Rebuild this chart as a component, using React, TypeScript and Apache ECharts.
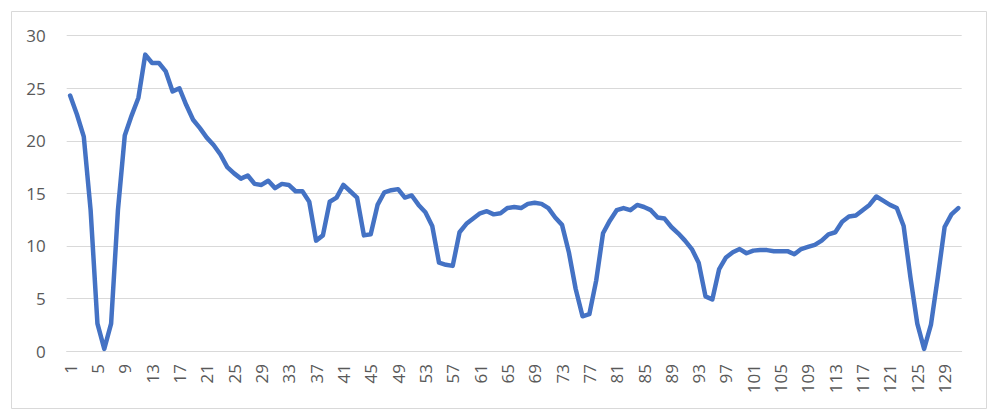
import React, { useEffect, useRef } from "react";
import * as echarts from "echarts";

const categories: string[] = Array.from({ length: 131 }, (_, i) => String(i + 1));

const values: number[] = [
  24.3, 22.5, 20.4, 13.4, 2.6, 0.2, 2.6, 13.4, 20.5, 22.4,
  24.1, 28.2, 27.4, 27.4, 26.6, 24.7, 25.0, 23.4, 22.0, 21.2,
  20.3, 19.6, 18.7, 17.5, 16.9, 16.4, 16.7, 15.9, 15.8, 16.2,
  15.5, 15.9, 15.8, 15.2, 15.2, 14.2, 10.5, 11.0, 14.2, 14.6,
  15.8, 15.2, 14.6, 11.0, 11.1, 13.9, 15.1, 15.3, 15.4, 14.6,
  14.8, 13.9, 13.2, 11.9, 8.4, 8.2, 8.1, 11.3, 12.1, 12.6,
  13.1, 13.3, 13.0, 13.1, 13.6, 13.7, 13.6, 14.0, 14.1, 14.0,
  13.6, 12.7, 12.0, 9.4, 5.9, 3.3, 3.5, 6.7, 11.2, 12.4,
  13.4, 13.6, 13.4, 13.9, 13.7, 13.4, 12.7, 12.6, 11.8, 11.2,
  10.5, 9.7, 8.4, 5.2, 4.9, 7.8, 8.9, 9.4, 9.7, 9.3,
  9.55, 9.6, 9.6, 9.5, 9.5, 9.5, 9.2, 9.7, 9.9, 10.1,
  10.5, 11.1, 11.3, 12.3, 12.8, 12.9, 13.4, 13.9, 14.7, 14.3,
  13.9, 13.6, 11.9, 7.0, 2.6, 0.2, 2.5, 7.0, 11.8, 13.0,
  13.6,
];

const yTicks = { min: 0, max: 30, interval: 5 };

export default function App() {
  const ref = useRef<HTMLDivElement>(null);

  useEffect(() => {
    document.body.style.margin = "0";
    if (!ref.current) return;
    const chart = echarts.init(ref.current, undefined, { renderer: "svg" });
    chart.setOption({
      animation: false,
      backgroundColor: "#ffffff",
      textStyle: { fontFamily: "'Open Sans', 'Noto Sans', sans-serif" },
      graphic: [
        {
          type: "rect",
          shape: { x: 11.5, y: 11.5, width: 975, height: 397 },
          style: { fill: "none", stroke: "#d9d9d9", lineWidth: 1 },
          silent: true,
        },
      ],
      grid: { left: 66.7, right: 38.3, top: 35.7, bottom: 68, containLabel: false },
      xAxis: {
        type: "category",
        data: categories,
        boundaryGap: true,
        axisLine: { show: true, lineStyle: { color: "#d9d9d9", width: 1 } },
        axisTick: { show: false },
        axisLabel: {
          interval: 3,
          rotate: 90,
          margin: 13,
          color: "#595959",
          fontSize: 17,
          fontFamily: "'Open Sans', 'Noto Sans', sans-serif",
        },
        splitLine: { show: false },
      },
      yAxis: {
        type: "value",
        min: yTicks.min,
        max: yTicks.max,
        interval: yTicks.interval,
        axisLine: { show: false },
        axisTick: { show: false },
        axisLabel: {
          margin: 21,
          color: "#595959",
          fontSize: 17,
          fontFamily: "'Open Sans', 'Noto Sans', sans-serif",
        },
        splitLine: { show: true, lineStyle: { color: "#d9d9d9", width: 1 } },
      },
      series: [
        {
          type: "line",
          data: values,
          showSymbol: false,
          symbol: "none",
          lineStyle: { color: "#4472C4", width: 4.5, cap: "round", join: "round" },
          itemStyle: { color: "#4472C4" },
        },
      ],
    });
    return () => chart.dispose();
  }, []);

  return <div ref={ref} style={{ width: 1000, height: 419 }} />;
}
